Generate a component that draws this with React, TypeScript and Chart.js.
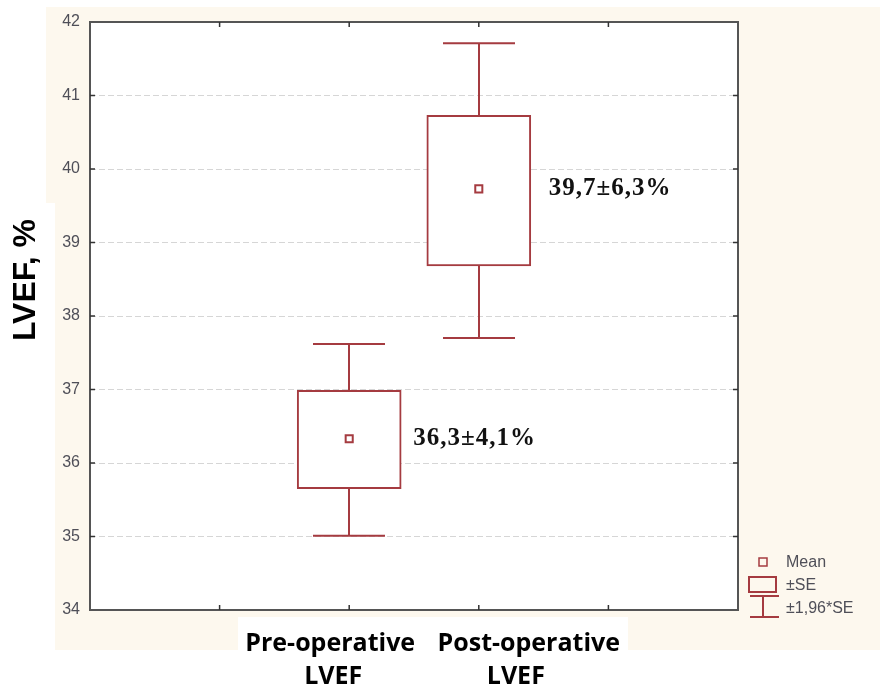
import React, { useEffect, useRef } from "react";
import { Chart, registerables } from "chart.js";

Chart.register(...registerables);

// ---- data ----
const categoryLines: string[][] = [["Pre-operative", "LVEF"], ["Post-operative", "LVEF"]];
const categoryPos: number[] = [2, 3];
const means: number[] = [36.33, 39.73];
const seLow: number[] = [35.65, 38.68];
const seHigh: number[] = [36.99, 40.73];
const ciLow: number[] = [35.01, 37.70];
const ciHigh: number[] = [37.62, 41.71];
const valueLabels: string[] = ["36,3±4,1%", "39,7±6,3%"];
const yMin = 34;
const yMax = 42;
const xMin = 0;
const xMax = 5;
const xTickPos: number[] = [1, 2, 3, 4];
const legendLabels: string[] = ["Mean", "±SE", "±1,96*SE"];
const yTitle = "LVEF, %";

// ---- styles ----
const RED = "#a53b40";
const CREAM = "#fdf8ee";
const FRAME = "#555555";
const TEXT_GREY = "#4f4f58";

const decorPlugin = {
  id: "decor",
  beforeDraw(chart: any) {
    const ctx = chart.ctx;
    const { left, top, right, bottom } = chart.chartArea;
    ctx.save();
    ctx.fillStyle = "#ffffff";
    ctx.fillRect(0, 0, chart.width, chart.height);
    ctx.fillStyle = CREAM;
    ctx.fillRect(46, 7, 834, 196);
    ctx.fillRect(55, 203, 825, 447);
    ctx.fillStyle = "#ffffff";
    ctx.fillRect(238, 617, 390, 33);
    ctx.fillRect(left, top, right - left, bottom - top);
    ctx.restore();
  },
  beforeDatasetsDraw(chart: any) {
    const ctx = chart.ctx;
    const xs = chart.scales.x;
    const ys = chart.scales.y;
    const { left, top, right, bottom } = chart.chartArea;
    ctx.save();
    // whiskers
    ctx.strokeStyle = RED;
    ctx.lineWidth = 2;
    const capHalf = 36;
    categoryPos.forEach((p, i) => {
      const x = Math.round(xs.getPixelForValue(p));
      const yHi = ys.getPixelForValue(ciHigh[i]);
      const yLo = ys.getPixelForValue(ciLow[i]);
      const yBoxHi = ys.getPixelForValue(seHigh[i]);
      const yBoxLo = ys.getPixelForValue(seLow[i]);
      ctx.beginPath();
      ctx.moveTo(x, yHi);
      ctx.lineTo(x, yBoxHi);
      ctx.moveTo(x, yBoxLo);
      ctx.lineTo(x, yLo);
      ctx.moveTo(x - capHalf, yHi);
      ctx.lineTo(x + capHalf, yHi);
      ctx.moveTo(x - capHalf, yLo);
      ctx.lineTo(x + capHalf, yLo);
      ctx.stroke();
    });
    // frame
    ctx.strokeStyle = FRAME;
    ctx.lineWidth = 2;
    ctx.strokeRect(left, top, right - left, bottom - top);
    // inward ticks
    ctx.lineWidth = 1.5;
    ctx.strokeStyle = "#333333";
    ctx.beginPath();
    for (let v = yMin + 1; v < yMax; v++) {
      const y = ys.getPixelForValue(v);
      ctx.moveTo(left, y);
      ctx.lineTo(left + 5, y);
      ctx.moveTo(right, y);
      ctx.lineTo(right - 5, y);
    }
    xTickPos.forEach((p) => {
      const x = xs.getPixelForValue(p);
      ctx.moveTo(x, bottom);
      ctx.lineTo(x, bottom - 5);
      ctx.moveTo(x, top);
      ctx.lineTo(x, top + 5);
    });
    ctx.stroke();
    ctx.restore();
  },
  afterDatasetsDraw(chart: any) {
    const ctx = chart.ctx;
    const xs = chart.scales.x;
    const ys = chart.scales.y;
    ctx.save();
    // value labels
    const labelDx = [64, 70];
    ctx.fillStyle = "#111111";
    ctx.font = "bold 25px 'Liberation Serif', 'Times New Roman', serif";
    (ctx as any).letterSpacing = "1px";
    ctx.textAlign = "left";
    ctx.textBaseline = "middle";
    categoryPos.forEach((p, i) => {
      const x = xs.getPixelForValue(p) + labelDx[i];
      const y = ys.getPixelForValue(means[i]);
      ctx.fillText(valueLabels[i], x, y);
    });
    (ctx as any).letterSpacing = "0px";
    // category labels
    const lineDx = [[-19, -16], [50, 37]];
    const lineY = [644, 677];
    ctx.fillStyle = "#000000";
    ctx.font = "bold 25px 'Open Sans', Lato, sans-serif";
    ctx.textAlign = "center";
    categoryPos.forEach((p, i) => {
      const cx = xs.getPixelForValue(p);
      categoryLines[i].forEach((line, j) => {
        ctx.fillText(line, cx + lineDx[i][j], lineY[j]);
      });
    });
    // y title
    ctx.save();
    ctx.translate(26, 280);
    ctx.rotate(-Math.PI / 2);
    ctx.font = "bold 32px 'Liberation Sans', Arial, sans-serif";
    ctx.fillStyle = "#000000";
    ctx.textAlign = "center";
    ctx.textBaseline = "middle";
    ctx.fillText(yTitle, 0, 0);
    ctx.restore();
    // legend
    ctx.strokeStyle = RED;
    ctx.lineWidth = 1.5;
    ctx.strokeRect(759, 558, 8, 8);
    ctx.lineWidth = 2;
    ctx.strokeRect(749, 577, 27, 15);
    ctx.beginPath();
    ctx.moveTo(750, 596);
    ctx.lineTo(779, 596);
    ctx.moveTo(763, 596);
    ctx.lineTo(763, 617);
    ctx.moveTo(750, 617);
    ctx.lineTo(779, 617);
    ctx.stroke();
    ctx.fillStyle = TEXT_GREY;
    ctx.font = "16px 'Liberation Sans', Arial, sans-serif";
    ctx.textAlign = "left";
    ctx.textBaseline = "middle";
    const ly = [563, 586, 609];
    legendLabels.forEach((t, i) => ctx.fillText(t, 786, ly[i]));
    ctx.restore();
  },
};

export default function App() {
  const ref = useRef<HTMLCanvasElement>(null);
  useEffect(() => {
    document.body.style.margin = "0";
    const canvas = ref.current;
    if (!canvas) return;
    const chart = new Chart(canvas, {
      type: "bar",
      data: {
        datasets: [
          {
            type: "bar",
            label: "±SE",
            data: categoryPos.map((p, i) => ({ x: p, y: [seLow[i], seHigh[i]] })) as any,
            backgroundColor: "#ffffff",
            borderColor: RED,
            borderWidth: 2,
            borderSkipped: false,
            barThickness: 104,
            order: 2,
          } as any,
          {
            type: "line",
            label: "Mean",
            data: categoryPos.map((p, i) => ({ x: p, y: means[i] })) as any,
            showLine: false,
            pointStyle: "rect",
            pointRadius: 5,
            pointBorderWidth: 2,
            pointBackgroundColor: "#ffffff",
            pointBorderColor: RED,
            order: 1,
          } as any,
        ],
      },
      options: {
        animation: false,
        responsive: false,
        devicePixelRatio: 1,
        layout: { padding: { top: 22, right: 142, bottom: 83, left: 0 } },
        plugins: {
          legend: { display: false },
          tooltip: { enabled: false },
        },
        scales: {
          x: {
            type: "linear",
            min: xMin,
            max: xMax,
            offset: false,
            display: false,
          },
          y: {
            type: "linear",
            min: yMin,
            max: yMax,
            afterFit: (scale: any) => {
              scale.width = 90;
            },
            ticks: {
              stepSize: 1,
              padding: 10,
              color: TEXT_GREY,
              font: { family: "'Liberation Sans', Arial, sans-serif", size: 16 },
            },
            grid: {
              color: "#d6d6d6",
              lineWidth: 1,
              drawTicks: false,
            },
            border: { display: false, dash: [6, 3] },
          },
        },
      } as any,
      plugins: [decorPlugin],
    });
    return () => chart.destroy();
  }, []);
  return (
    <div style={{ position: "absolute", left: 0, top: 0, width: 880, height: 693 }}>
      <canvas ref={ref} width={880} height={693} style={{ width: 880, height: 693 }} />
    </div>
  );
}
